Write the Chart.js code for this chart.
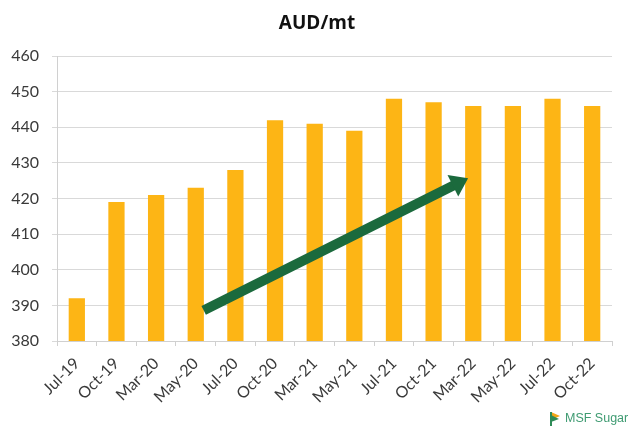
<!DOCTYPE html>
<html><head><meta charset="utf-8">
<script src="https://cdn.jsdelivr.net/npm/chart.js@4/dist/chart.umd.min.js"></script>
<style>html,body{margin:0;padding:0;background:#fff;}#c{display:block;}</style>
</head><body>
<canvas id="c" width="631" height="428"></canvas>
<script>
const categories = ["Jul-19","Oct-19","Mar-20","May-20","Jul-20","Oct-20","Mar-21","May-21","Jul-21","Oct-21","Mar-22","May-22","Jul-22","Oct-22"];
const prices = [392, 419, 421, 423, 428, 442, 441, 439, 448, 447, 446, 446, 448, 446];
const yTicks = [380, 390, 400, 410, 420, 430, 440, 450, 460];
const titleText = "AUD/mt";
const logoText = "MSF Sugar";
// trend arrow, in data units (category index, value)
const arrowFrom = {x: 3.2, y: 388.6};
const arrowTo = {x: 9.87, y: 425.7};

const arrowPlugin = {
  id: 'arrow',
  afterDatasetsDraw(chart) {
    const {ctx, scales: {x, y}} = chart;
    const x1 = x.getPixelForValue(arrowFrom.x), y1 = y.getPixelForValue(arrowFrom.y);
    const x2 = x.getPixelForValue(arrowTo.x), y2 = y.getPixelForValue(arrowTo.y);
    const ang = Math.atan2(y2 - y1, x2 - x1);
    const headLen = 17, headW = 12;
    const bx = x2 - headLen * Math.cos(ang), by = y2 - headLen * Math.sin(ang);
    ctx.save();
    ctx.strokeStyle = '#1b6a3d';
    ctx.fillStyle = '#1b6a3d';
    ctx.lineWidth = 10;
    ctx.lineCap = 'butt';
    ctx.beginPath(); ctx.moveTo(x1, y1); ctx.lineTo(bx + 2*Math.cos(ang), by + 2*Math.sin(ang)); ctx.stroke();
    ctx.beginPath();
    ctx.moveTo(x2, y2);
    ctx.lineTo(bx + headW * Math.sin(ang), by - headW * Math.cos(ang));
    ctx.lineTo(bx - headW * Math.sin(ang), by + headW * Math.cos(ang));
    ctx.closePath(); ctx.fill();
    ctx.restore();
  }
};
const titlePlugin = {
  id: 'titleText',
  afterDraw(chart) {
    const ctx = chart.ctx;
    ctx.save();
    ctx.fillStyle = '#111';
    ctx.font = 'bold 19px "Open Sans", sans-serif';
    ctx.textAlign = 'center';
    ctx.textBaseline = 'middle';
    ctx.fillText(titleText, 317, 24);
    ctx.restore();
  }
};
const logoPlugin = {
  id: 'logo',
  afterDraw(chart) {
    const ctx = chart.ctx;
    ctx.save();
    const lx = 551, ly = 412;
    ctx.fillStyle = '#f2a516';
    ctx.beginPath(); ctx.moveTo(lx, ly); ctx.lineTo(lx + 9, ly + 4); ctx.lineTo(lx, ly + 8); ctx.closePath(); ctx.fill();
    ctx.fillStyle = '#2e8b57';
    ctx.beginPath(); ctx.moveTo(lx, ly + 3); ctx.lineTo(lx + 8, ly + 7); ctx.lineTo(lx, ly + 10); ctx.closePath(); ctx.fill();
    ctx.fillRect(lx - 1, ly, 2, 14);
    ctx.fillStyle = '#3f9b72';
    ctx.font = '12.5px "Liberation Sans Narrow", "Liberation Sans", sans-serif';
    ctx.textBaseline = 'middle';
    ctx.fillText(logoText, lx + 14, ly + 7);
    ctx.restore();
  }
};

new Chart(document.getElementById('c'), {
  type: 'bar',
  data: { labels: categories, datasets: [{ data: prices, backgroundColor: '#FDB515', barPercentage: 0.41, categoryPercentage: 1 }] },
  options: {
    responsive: false, animation: false,
    layout: { padding: { left: 0, right: 19, top: 56, bottom: 0 } },
    plugins: {
      legend: { display: false }, tooltip: { enabled: false }, title: { display: false }
    },
    scales: {
      x: {
        afterFit(s) { s.height = 87; },
        grid: { offset: true, drawOnChartArea: false, drawTicks: true, tickLength: 5, color: '#d0d0d0' },
        border: { color: '#d0d0d0' },
        ticks: { minRotation: 45, maxRotation: 45, padding: 8, color: '#3a3a3a', font: { family: 'Lato', size: 16 } }
      },
      y: {
        min: 380, max: 460,
        afterFit(s) { s.width = 57; },
        afterBuildTicks(s) { s.ticks = yTicks.map(v => ({ value: v })); },
        grid: { color: '#d9d9d9', tickLength: 5 },
        border: { color: '#d0d0d0' },
        ticks: { padding: 13, color: '#3a3a3a', font: { family: 'Lato', size: 16 } }
      }
    }
  },
  plugins: [arrowPlugin, titlePlugin, logoPlugin]
});
</script>
</body></html>
